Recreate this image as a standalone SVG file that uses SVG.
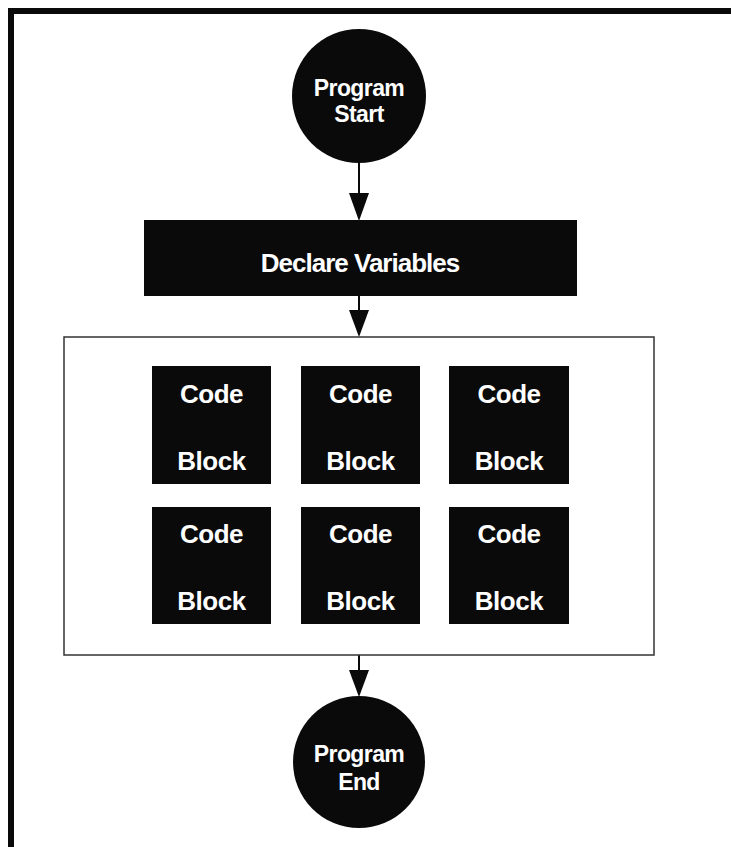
<svg xmlns="http://www.w3.org/2000/svg" width="731" height="847" viewBox="0 0 731 847">
<style>
  .frame{fill:none;stroke:#0a0a0a;stroke-width:6}
  .dark{fill:#0a0a0a}
  .box{fill:#fff;stroke:#333;stroke-width:1.5}
  .lbl{font-family:"Liberation Sans",Arial,Helvetica,sans-serif;font-weight:bold;fill:#fff;text-anchor:middle}
  .big{font-size:26px;letter-spacing:-1px}
  .circ{font-size:23px;letter-spacing:-0.6px}
  .cb{font-size:26px;letter-spacing:-0.5px}
  .line{stroke:#0a0a0a;stroke-width:2;fill:none}
  .head{fill:#0a0a0a}
</style>
<rect x="0" y="0" width="731" height="847" fill="#fff"/>
<rect class="frame" x="11" y="11" width="740" height="860"/>
<g id="connectors">
  <line class="line" x1="359" y1="160" x2="359" y2="200"/>
  <path class="head" d="M349,193 L369,193 L359,221 Z"/>
  <line class="line" x1="359" y1="296" x2="359" y2="318"/>
  <path class="head" d="M349,310 L369,310 L359,337 Z"/>
  <line class="line" x1="359" y1="655" x2="359" y2="676"/>
  <path class="head" d="M349,670 L369,670 L359,697 Z"/>
</g>
<g id="start">
  <circle class="dark" cx="359" cy="96" r="67"/>
  <text class="lbl circ" x="359" y="96">Program</text>
  <text class="lbl circ" x="359" y="122">Start</text>
</g>
<g id="declare">
  <rect class="dark" x="144" y="220" width="433" height="76"/>
  <text class="lbl big" x="360" y="272">Declare Variables</text>
</g>
<g id="container">
  <rect class="box" x="64" y="337" width="590" height="318"/>
</g>
<g id="block1">
  <rect class="dark" x="152" y="366" width="119" height="118"/>
  <text class="lbl cb" x="211.5" y="403">Code</text>
  <text class="lbl cb" x="211.5" y="470">Block</text>
</g>
<g id="block2">
  <rect class="dark" x="301" y="366" width="119" height="118"/>
  <text class="lbl cb" x="360.5" y="403">Code</text>
  <text class="lbl cb" x="360.5" y="470">Block</text>
</g>
<g id="block3">
  <rect class="dark" x="449" y="366" width="120" height="118"/>
  <text class="lbl cb" x="509" y="403">Code</text>
  <text class="lbl cb" x="509" y="470">Block</text>
</g>
<g id="block4">
  <rect class="dark" x="152" y="507" width="119" height="117"/>
  <text class="lbl cb" x="211.5" y="543">Code</text>
  <text class="lbl cb" x="211.5" y="610">Block</text>
</g>
<g id="block5">
  <rect class="dark" x="301" y="507" width="119" height="117"/>
  <text class="lbl cb" x="360.5" y="543">Code</text>
  <text class="lbl cb" x="360.5" y="610">Block</text>
</g>
<g id="block6">
  <rect class="dark" x="449" y="507" width="120" height="117"/>
  <text class="lbl cb" x="509" y="543">Code</text>
  <text class="lbl cb" x="509" y="610">Block</text>
</g>
<g id="end">
  <circle class="dark" cx="359" cy="762" r="66"/>
  <text class="lbl circ" x="359" y="762">Program</text>
  <text class="lbl circ" x="359" y="790">End</text>
</g>
</svg>
